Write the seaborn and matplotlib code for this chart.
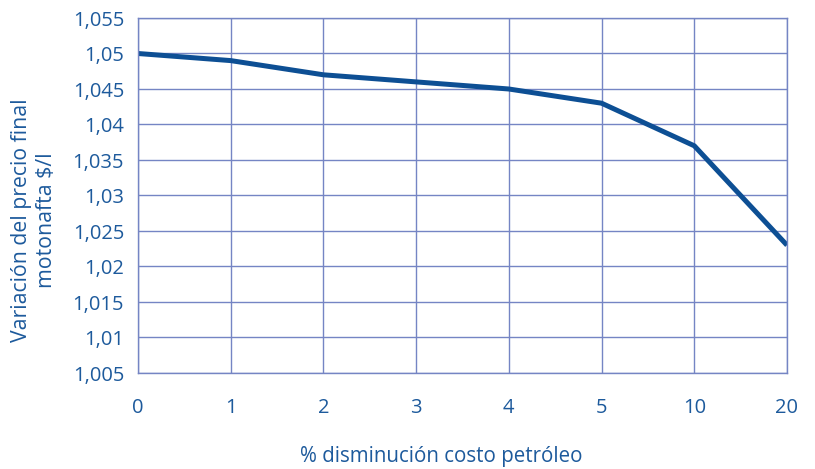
import matplotlib
matplotlib.use("Agg")
import matplotlib.pyplot as plt
import seaborn as sns
import pandas as pd

categories = ["0", "1", "2", "3", "4", "5", "10", "20"]
values = [1.050, 1.049, 1.047, 1.046, 1.045, 1.043, 1.037, 1.023]
ytick_values = [1.005, 1.01, 1.015, 1.02, 1.025, 1.03, 1.035, 1.04, 1.045, 1.05, 1.055]
ytick_labels = ["1,005", "1,01", "1,015", "1,02", "1,025", "1,03", "1,035", "1,04", "1,045", "1,05", "1,055"]

sns.set_theme(style="white")
plt.rcParams['font.family'] = ['Open Sans', 'DejaVu Sans']

text_color = "#1d5a9c"
grid_color = "#7585c4"
line_color = "#0d4f94"

df = pd.DataFrame({"pos": range(len(categories)), "val": values})

fig = plt.figure(figsize=(8.15, 4.69), dpi=100)
ax = fig.add_axes([138/815, 1 - 373/469, (787-138)/815, (373-18)/469])
sns.lineplot(data=df, x="pos", y="val", ax=ax, color=line_color, linewidth=3.6, solid_capstyle="butt")

ax.set_xlim(0, len(categories) - 1)
ax.set_ylim(1.005, 1.055)
ax.set_xticks(range(len(categories)))
ax.set_xticklabels(categories)
ax.set_yticks(ytick_values)
ax.set_yticklabels(ytick_labels)
ax.grid(True, color=grid_color, linewidth=1.0)
ax.set_axisbelow(True)
for s in ax.spines.values():
    s.set_color(grid_color)
    s.set_linewidth(1.0)
ax.tick_params(axis="both", colors=grid_color, length=9, width=1.0, labelsize=14.5,
               labelcolor=text_color, direction="out")
ax.tick_params(axis="x", pad=9)
ax.tick_params(axis="y", pad=1)
ax.set_xlabel("")
ax.set_ylabel("")

fig.text(441/815, 1 - 456/469, "% disminución costo petróleo", color=text_color, fontsize=14.8,
         ha="center", va="center")
fig.text(34/815, 1 - 220/469, "Variación del precio final\nmotonafta $/l", color=text_color,
         fontsize=15.3, ha="center", va="center", rotation=90, linespacing=1.2, multialignment="center")

fig.savefig("out.png", dpi=100, facecolor="white")
